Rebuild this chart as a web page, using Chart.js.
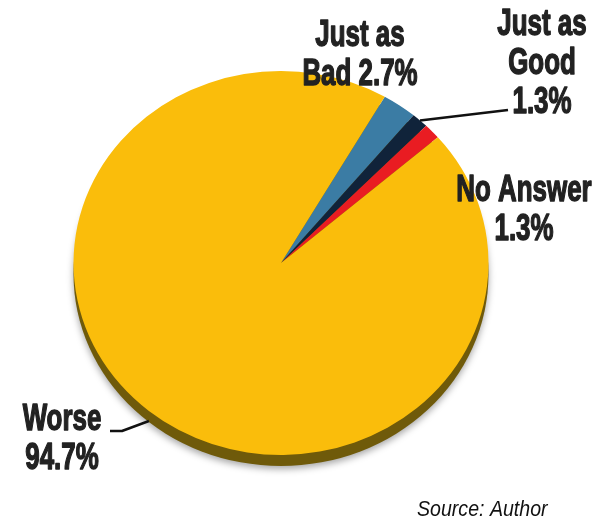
<!DOCTYPE html>
<html>
<head>
<meta charset="utf-8">
<script src="https://cdn.jsdelivr.net/npm/chart.js@4/dist/chart.umd.min.js"></script>
<style>
  html, body { margin: 0; padding: 0; background: #fff; }
  #wrap { position: relative; width: 597px; height: 522px; }
</style>
</head>
<body>
<div id="wrap"><canvas id="pie" width="597" height="522"></canvas></div>
<script>
// 資料
const categories = ['Just as Bad', 'Just as Good', 'No Answer', 'Worse'];
const shares = [2.7, 1.3, 1.3, 94.7];
const labelText = [
  ['Just as', 'Bad 2.7%'],
  ['Just as', 'Good', '1.3%'],
  ['No Answer', '1.3%'],
  ['Worse', '94.7%']
];
const sliceColors = ['#3b7ca4', '#10233a', '#e91c22', '#fabd0b'];

// 立體傾斜（垂直壓縮）與側邊厚度
const tilt = 0.925;
const rimDepth = 12;

// 標籤位置（中心點）與引線
const labelPos = [
  { x: 360, y: 36 },
  { x: 542, y: 25 },
  { x: 524, y: 191 },
  { x: 62, y: 420 }
];
const leaders = {
  1: { dy: 0, path: [[508, 110]] },
  3: { dy: 10, path: [[122, 431], [110, 431]] }
};

function squash(ctx, arc) {
  ctx.translate(arc.x, arc.y);
  ctx.scale(1, tilt);
  ctx.translate(-arc.x, -arc.y);
}

const tiltPlugin = {
  id: 'tilt',
  beforeDatasetsDraw(chart) {
    const arc = chart.getDatasetMeta(0).data[0];
    if (!arc) return;
    const ctx = chart.ctx;
    // 底部立體邊與陰影
    ctx.save();
    squash(ctx, arc);
    ctx.shadowColor = 'rgba(0,0,0,0.35)';
    ctx.shadowBlur = 7;
    ctx.shadowOffsetY = 3;
    ctx.fillStyle = '#6f5a0a';
    ctx.beginPath();
    ctx.arc(arc.x, arc.y + rimDepth, arc.outerRadius, 0, Math.PI * 2);
    ctx.fill();
    ctx.restore();
    // 扇形也壓縮
    ctx.save();
    squash(ctx, arc);
  },
  afterDatasetsDraw(chart) {
    chart.ctx.restore();
  }
};

const labelPlugin = {
  id: 'sliceLabels',
  afterDatasetsDraw(chart) {
    const ctx = chart.ctx;
    const meta = chart.getDatasetMeta(0);
    ctx.save();
    // 引線
    ctx.strokeStyle = '#111';
    ctx.lineWidth = 2.5;
    ctx.lineJoin = 'round';
    Object.keys(leaders).forEach((k) => {
      const arc = meta.data[k];
      const l = leaders[k];
      const mid = (arc.startAngle + arc.endAngle) / 2;
      const r = arc.outerRadius;
      ctx.beginPath();
      ctx.moveTo(arc.x + r * Math.cos(mid), arc.y + tilt * r * Math.sin(mid) + l.dy);
      l.path.forEach((p) => ctx.lineTo(p[0], p[1]));
      ctx.stroke();
    });
    // 文字（橫向壓縮成窄體）
    ctx.font = 'bold 36px "Liberation Sans", Arial, sans-serif';
    ctx.textAlign = 'center';
    ctx.textBaseline = 'middle';
    ctx.fillStyle = '#222';
    ctx.strokeStyle = '#222';
    ctx.lineWidth = 1.4;
    labelText.forEach((lines, i) => {
      lines.forEach((t, j) => {
        ctx.save();
        ctx.translate(labelPos[i].x, labelPos[i].y + j * 39);
        ctx.scale(0.72, 1);
        ctx.fillText(t, 0, 0);
        ctx.strokeText(t, 0, 0);
        ctx.restore();
      });
    });
    // 來源
    ctx.font = 'italic 22px "Liberation Sans", Arial, sans-serif';
    ctx.textAlign = 'left';
    ctx.fillStyle = '#111';
    ctx.save();
    ctx.translate(417, 510);
    ctx.scale(0.89, 1);
    ctx.fillText('Source: Author', 0, 0);
    ctx.restore();
    ctx.restore();
  }
};

new Chart(document.getElementById('pie'), {
  type: 'pie',
  data: {
    labels: categories,
    datasets: [{
      data: shares,
      backgroundColor: sliceColors,
      borderWidth: 0
    }]
  },
  options: {
    responsive: false,
    animation: false,
    rotation: 30,
    layout: { padding: { left: 73.5, right: 108.5, top: 55.5, bottom: 51.5 } },
    plugins: {
      legend: { display: false },
      tooltip: { enabled: false }
    }
  },
  plugins: [tiltPlugin, labelPlugin]
});
</script>
</body>
</html>
